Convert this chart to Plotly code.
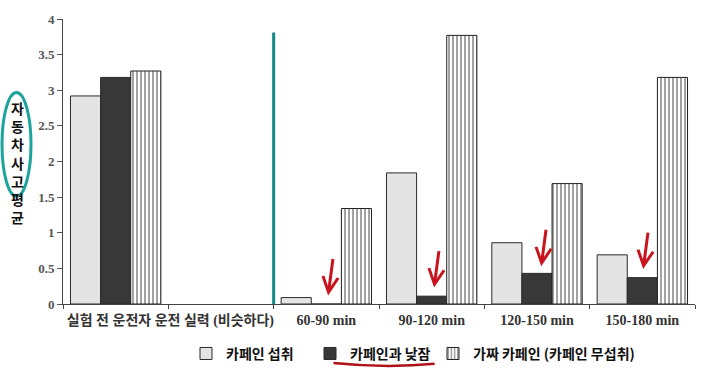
import plotly.graph_objects as go

# ---- data ----
group_labels = ["실험 전 운전자 운전 실력 (비슷하다)", "60-90 min", "90-120 min", "120-150 min", "150-180 min"]
group_pos = [0.5, 2.5, 3.5, 4.5, 5.5]
label_pos = [1.02, 2.5, 3.5, 4.5, 5.5]
series_names = ["카페인 섭취", "카페인과 낮잠", "가짜 카페인 (카페인 무섭취)"]
caffeine = [2.92, 0.09, 1.84, 0.86, 0.69]
caffeine_nap = [3.18, 0.0, 0.11, 0.43, 0.37]
placebo = [3.27, 1.34, 3.77, 1.69, 3.18]
y_ticks = [0, 0.5, 1, 1.5, 2, 2.5, 3, 3.5, 4]
y_tick_text = ["0", "0.5", "1", "1.5", "2", "2.5", "3", "3.5", "4"]
arrow_tips = [(2.517, 0.12), (3.523, 0.23), (4.54, 0.53), (5.508, 0.49)]

W = 0.286
fig = go.Figure()
fig.add_trace(go.Bar(name=series_names[0], x=group_pos, y=caffeine, width=W, offset=-1.5 * W,
                     marker=dict(color="#e4e4e4", line=dict(color="#2a2a2a", width=1))))
fig.add_trace(go.Bar(name=series_names[1], x=group_pos, y=caffeine_nap, width=W, offset=-0.5 * W,
                     marker=dict(color="#383838", line=dict(color="#2a2a2a", width=1))))
fig.add_trace(go.Bar(name=series_names[2], x=group_pos, y=placebo, width=W, offset=0.5 * W,
                     legend="legend2",
                     marker=dict(color="white", line=dict(color="#222", width=1),
                                 pattern=dict(shape="|", fgcolor="#222", bgcolor="white",
                                              size=4, solidity=0.42))))
# invisible trace on xaxis2 to carry category labels
fig.add_trace(go.Scatter(x=label_pos, y=[0] * len(label_pos), xaxis="x2", mode="markers",
                         marker=dict(opacity=0), showlegend=False, hoverinfo="skip"))

legend_font = dict(family="Noto Sans CJK KR", size=14, color="#111", weight="bold")
fig.update_layout(
    width=720, height=385, autosize=False,
    margin=dict(l=63, r=25, t=13, b=81),
    paper_bgcolor="white", plot_bgcolor="white",
    barmode="overlay",
    showlegend=True,
    legend=dict(orientation="h", x=(186 - 63) / 632, xanchor="left", y=-0.175, yanchor="middle",
                font=legend_font, itemwidth=30, entrywidth=79, entrywidthmode="pixels",
                tracegroupgap=0, bgcolor="rgba(0,0,0,0)"),
    legend2=dict(orientation="h", x=(433 - 63) / 632, xanchor="left", y=-0.175, yanchor="middle",
                 font=legend_font, itemwidth=30, tracegroupgap=0, bgcolor="rgba(0,0,0,0)"),
    xaxis=dict(range=[0, 6], tickvals=[0, 1, 2, 3, 4, 5, 6], ticktext=[""] * 7,
               ticks="outside", ticklen=4, tickcolor="#444", showline=True, linecolor="#444",
               linewidth=1, showgrid=False, zeroline=False, fixedrange=True),
    xaxis2=dict(range=[0, 6], overlaying="x", side="bottom", tickvals=label_pos, ticktext=group_labels,
                ticks="", showline=False, showgrid=False, zeroline=False, ticklabelstandoff=6,
                tickfont=dict(family="Liberation Serif, Noto Sans CJK KR", size=14, color="#333",
                              weight="bold")),
    yaxis=dict(range=[0, 4], tickvals=y_ticks, ticktext=y_tick_text, ticks="outside", ticklen=5,
               tickcolor="#555", showline=True, linecolor="#444", linewidth=1, showgrid=False,
               zeroline=False, tickfont=dict(family="Liberation Serif", size=13, color="#555",
                                             weight="bold")),
)

# teal vertical separator
fig.add_shape(type="line", x0=2.0, x1=2.0, y0=0, y1=3.81, xref="x", yref="y",
              line=dict(color="#14898a", width=3))

# y-axis title: stacked characters
fig.add_annotation(text="자<br>동<br>차<br>사<br>고<br>평<br>균", xref="paper", yref="paper",
                   x=(17 - 63) / 632, y=(304 - 160) / 291, showarrow=False, align="center",
                   xanchor="center", yanchor="middle",
                   font=dict(family="Noto Sans CJK KR", size=14, color="#111", weight="bold"))
# teal ellipse around 자동차 사고
fig.add_shape(type="circle", xref="paper", yref="paper",
              x0=(2 - 63) / 632, x1=(31 - 63) / 632, y0=(304 - 194) / 291, y1=(304 - 88) / 291,
              line=dict(color="#1ba39c", width=3))

# red hand-drawn arrows
for tx, ty in arrow_tips:
    fig.add_annotation(x=tx, y=ty, xref="x", yref="y", text="", showarrow=True,
                       ax=5, ay=-38, arrowhead=5, arrowsize=1, arrowwidth=3,
                       arrowcolor="#c8141c")

# red underline under legend item
fig.add_shape(type="path", xref="paper", yref="paper",
              path="M 0.428,-0.207 Q 0.51,-0.226 0.588,-0.21",
              line=dict(color="#b01018", width=2.5))

fig.write_html("out.html", config={"displayModeBar": False},
               post_script="document.body.style.margin='0';")
